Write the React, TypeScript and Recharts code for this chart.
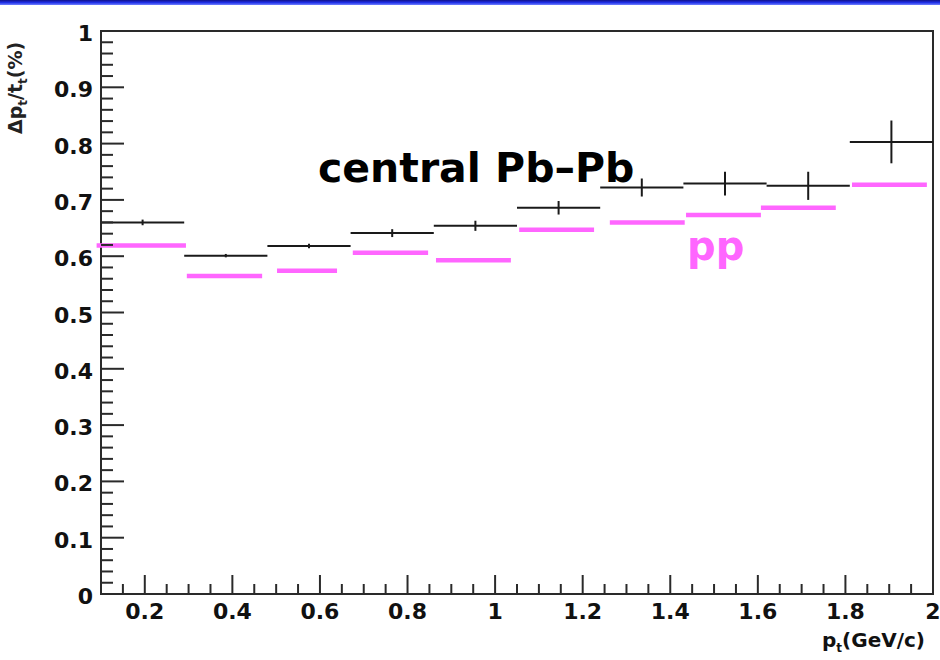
import React from 'react';
import {
  ComposedChart,
  XAxis,
  YAxis,
  Scatter,
  ErrorBar,
  ReferenceLine,
  ReferenceArea,
} from 'recharts';

// ---- data ----
const binCenters = [0.195, 0.385, 0.575, 0.765, 0.955, 1.145, 1.335, 1.525, 1.715, 1.905];
const binHalfWidths = [0.095, 0.095, 0.095, 0.095, 0.095, 0.095, 0.095, 0.095, 0.095, 0.095];
const pbpbValues = [0.660, 0.601, 0.618, 0.641, 0.654, 0.686, 0.722, 0.729, 0.725, 0.803];
const pbpbErrors = [0.005, 0.003, 0.004, 0.007, 0.009, 0.012, 0.016, 0.021, 0.025, 0.038];

const ppStart = [0.09, 0.296, 0.502, 0.675, 0.865, 1.055, 1.262, 1.436, 1.607, 1.815];
const ppEnd = [0.294, 0.468, 0.639, 0.847, 1.036, 1.226, 1.433, 1.607, 1.778, 1.986];
const ppValues = [0.619, 0.565, 0.574, 0.606, 0.593, 0.647, 0.660, 0.673, 0.686, 0.727];

const xMajorTicks = [0.2, 0.4, 0.6, 0.8, 1, 1.2, 1.4, 1.6, 1.8, 2];
const xMajorLabels = ['0.2', '0.4', '0.6', '0.8', '1', '1.2', '1.4', '1.6', '1.8', '2'];
const yMajorTicks = [0, 0.1, 0.2, 0.3, 0.4, 0.5, 0.6, 0.7, 0.8, 0.9, 1];
const yMajorLabels = ['0', '0.1', '0.2', '0.3', '0.4', '0.5', '0.6', '0.7', '0.8', '0.9', '1'];
const xDomain: [number, number] = [0.1, 2];
const yDomain: [number, number] = [0, 1];
const xMinorStep = 0.05;
const yMinorStep = 0.02;

const makeTicks = (lo: number, hi: number, step: number) => {
  const out: number[] = [];
  const n = Math.round((hi - lo) / step);
  for (let i = 0; i <= n; i++) out.push(Math.round((lo + i * step) * 1000) / 1000);
  return out;
};
const xTicks = makeTicks(xDomain[0], xDomain[1], xMinorStep);
const yTicks = makeTicks(yDomain[0], yDomain[1], yMinorStep);

const pbpbData = binCenters.map((x, i) => ({
  x,
  y: pbpbValues[i],
  ex: binHalfWidths[i],
  ey: pbpbErrors[i],
}));

const FONT = '"DejaVu Sans", sans-serif';
const TICK_COLOR = '#2a2a2a';

const majorIndex = (arr: number[], v: number) => arr.findIndex((m) => Math.abs(m - v) < 1e-6);

const XTick = (props: any) => {
  const { x, y, payload } = props;
  const idx = majorIndex(xMajorTicks, payload.value);
  const major = idx >= 0;
  return (
    <g>
      <line x1={x} x2={x} y1={y} y2={y - (major ? 19 : 10)} stroke={TICK_COLOR} strokeWidth={2} />
      {major && (
        <text
          x={x}
          y={y + 25}
          textAnchor="middle"
          fontFamily={FONT}
          fontWeight="bold"
          fontSize={22}
          fill="#111"
        >
          {xMajorLabels[idx]}
        </text>
      )}
    </g>
  );
};

const YTick = (props: any) => {
  const { x, y, payload } = props;
  const idx = majorIndex(yMajorTicks, payload.value);
  const major = idx >= 0;
  return (
    <g>
      <line x1={x} x2={x + (major ? 23 : 12)} y1={y} y2={y} stroke={TICK_COLOR} strokeWidth={2} />
      {major && (
        <text
          x={x - 8}
          y={y + 10}
          textAnchor="end"
          fontFamily={FONT}
          fontWeight="bold"
          fontSize={22}
          fill="#111"
        >
          {yMajorLabels[idx]}
        </text>
      )}
    </g>
  );
};

export default function App() {
  return (
    <div
      style={{
        position: 'absolute',
        left: 0,
        top: 0,
        width: 940,
        height: 660,
        background: '#fff',
        overflow: 'hidden',
      }}
    >
      <div
        style={{
          position: 'absolute',
          left: 0,
          top: 0,
          width: 940,
          height: 5,
          background: 'linear-gradient(to bottom, #10108a, #1f2fe6, #7080ff)',
        }}
      />
      <ComposedChart width={940} height={660} margin={{ top: 31, right: 7, bottom: 0, left: 0 }}>
        <XAxis
          type="number"
          dataKey="x"
          domain={xDomain}
          ticks={xTicks}
          interval={0}
          tickSize={0}
          tickMargin={0}
          axisLine={false}
          tickLine={false}
          tick={(p: any) => <XTick {...p} />}
          height={66}
          allowDataOverflow
        />
        <YAxis
          type="number"
          dataKey="y"
          domain={yDomain}
          ticks={yTicks}
          interval={0}
          tickSize={0}
          tickMargin={0}
          axisLine={false}
          tickLine={false}
          tick={(p: any) => <YTick {...p} />}
          width={101}
          allowDataOverflow
        />
        <ReferenceArea
          x1={xDomain[0]}
          x2={xDomain[1]}
          y1={yDomain[0]}
          y2={yDomain[1]}
          fill="none"
          fillOpacity={0}
          stroke="#2a2a2a"
          strokeWidth={2}
          ifOverflow="visible"
        />
        {ppValues.map((v, i) => (
          <ReferenceLine
            key={'pp' + i}
            segment={[
              { x: ppStart[i], y: v },
              { x: ppEnd[i], y: v },
            ]}
            stroke="#ff66ff"
            strokeWidth={4.5}
            ifOverflow="visible"
          />
        ))}
        <Scatter
          data={pbpbData}
          dataKey="y"
          isAnimationActive={false}
          shape={() => <g />}
        >
          <ErrorBar dataKey="ex" direction="x" width={0} stroke="#1a1a1a" strokeWidth={2} isAnimationActive={false} />
          <ErrorBar dataKey="ey" direction="y" width={0} stroke="#1a1a1a" strokeWidth={2} isAnimationActive={false} />
        </Scatter>
      </ComposedChart>
      <svg
        width={940}
        height={660}
        style={{ position: 'absolute', left: 0, top: 0, pointerEvents: 'none' }}
      >
        <text x={318} y={182} fontFamily={FONT} fontWeight="bold" fontSize={41} fill="#000">
          central Pb–Pb
        </text>
        <text x={687} y={260} fontFamily={FONT} fontWeight="bold" fontSize={40} fill="#ff66ff">
          pp
        </text>
        <text x={822} y={647} fontFamily={FONT} fontWeight="bold" fontSize={20} fill="#111">
          p<tspan fontSize={12} dy={5}>t</tspan>
          <tspan dy={-5}>(GeV/c)</tspan>
        </text>
        <text
          transform="translate(22,134) rotate(-90)"
          fontFamily={FONT}
          fontWeight="bold"
          fontSize={19}
          fill="#222"
        >
          Δp<tspan fontSize={12} dy={5}>t</tspan>
          <tspan dy={-5}>/t</tspan>
          <tspan fontSize={12} dy={5}>t</tspan>
          <tspan dy={-5}>(%)</tspan>
        </text>
      </svg>
    </div>
  );
}
